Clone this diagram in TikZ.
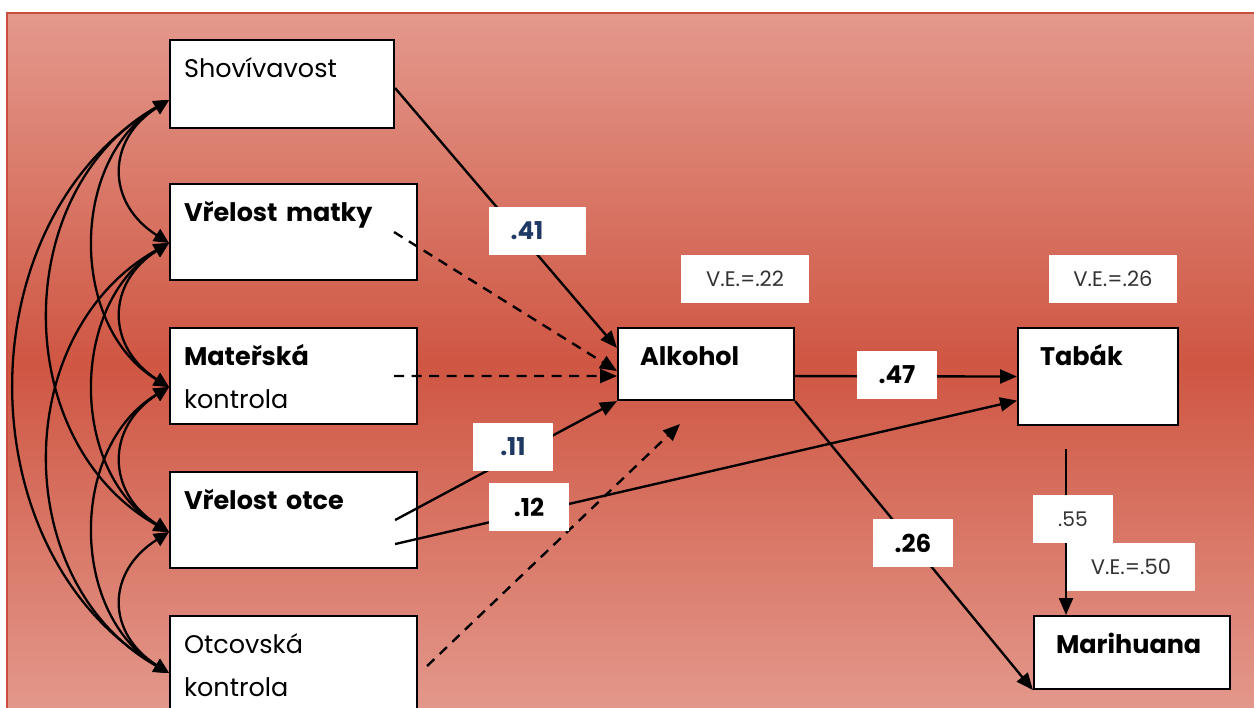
\documentclass[tikz,border=0pt]{standalone}
\usepackage{fontspec}
\setmainfont{Poppins}
\usepackage{tikz}
\usetikzlibrary{arrows.meta, positioning, calc}
\usepackage{xcolor}
\definecolor{pozadi svetle}{RGB}{227,153,140}
\definecolor{pozadi tmave}{RGB}{207,86,67}
\definecolor{okraj}{RGB}{200,78,62}
\definecolor{modra}{RGB}{31,56,100}
\tikzset{
    promenna/.style={draw, line width=1.2pt, fill=white, anchor=north west, align=left,
        inner ysep=0pt, inner xsep=0.28cm, text height=0.74cm,
        font=\fontsize{14.5}{25}\selectfont},
    stitek/.style={fill=white, inner sep=0pt, minimum width=1.6cm, minimum height=0.96cm,
        font=\fontsize{14}{16}\selectfont\bfseries},
    stitek ve/.style={fill=white, inner sep=0pt, minimum width=2.56cm, minimum height=0.96cm,
        font=\fontsize{12}{14}\selectfont, text=black!80},
    cesta/.style={-{Triangle[length=0.34cm, width=0.28cm]}, line width=1.35pt},
    cesta prerusovana/.style={cesta, dash pattern=on 0.2cm off 0.15cm},
    kovariance/.style={{Triangle[length=0.3cm, width=0.28cm]}-{Triangle[length=0.3cm, width=0.28cm]}, line width=1.3pt},
}
\begin{document}
\begin{tikzpicture}[x=0.02cm, y=-0.02cm]
\useasboundingbox (0,0) rectangle (1254,707);
\clip (0,0) rectangle (1254,707);
% Pozadi
\shade[top color=pozadi svetle, bottom color=pozadi svetle, middle color=pozadi tmave] (7,13) rectangle (1262,715);
\draw[okraj, line width=1.5pt] (1262,13) -- (7,13) -- (7,715);

% Rodicovske promenne
\node[promenna, text width=3.92cm, text depth=1.02cm] (shov) at (169,39) {Shovívavost};
\node[promenna, text width=4.38cm, text depth=1.18cm] (matky) at (169,183) {\textbf{Vřelost matky}};
\node[promenna, text width=4.38cm, text depth=1.18cm] (mkontr) at (169,327) {\textbf{Mateřská}\\kontrola};
\node[promenna, text width=4.38cm, text depth=1.18cm] (otce) at (169,471) {\textbf{Vřelost otce}};
\node[promenna, text width=4.38cm, text depth=1.26cm] (okontr) at (169,615) {Otcovská\\kontrola};

% Latky
\node[promenna, inner xsep=0.44cm, text width=2.64cm, text depth=0.70cm] (alk) at (617,327) {\textbf{Alkohol}};
\node[promenna, inner xsep=0.44cm, text width=2.32cm, text depth=1.20cm] (tab) at (1017,327) {\textbf{Tabák}};
\node[promenna, inner xsep=0.44cm, text width=3.04cm, text depth=0.72cm] (mar) at (1033,615) {\textbf{Marihuana}};

% Kovariance mezi rodicovskymi promennymi
\coordinate (k1) at ($(shov.north west)+(0,61)$);
\coordinate (k2) at ($(matky.north west)+(0,60)$);
\coordinate (k3) at ($(mkontr.north west)+(0,60)$);
\coordinate (k4) at ($(otce.north west)+(0,61)$);
\coordinate (k5) at ($(okontr.north west)+(0,58)$);
\foreach \i/\j/\a/\b in {1/2/63/40, 2/3/63/40, 3/4/63/40, 4/5/63/40,
                         1/3/100/60, 2/4/100/60, 3/5/100/60,
                         1/4/160/90, 2/5/160/90, 1/5/205/120}
    \draw[kovariance] (k\i) .. controls +(-\a,\b) and +(-\a,-\b) .. (k\j);

% Cesty k alkoholu
\coordinate (konec) at (680,424);
\draw[cesta] ($(shov.east)+(0,4)$) -- ($(alk.north west)+(0,21)$);
\draw[cesta prerusovana] ($(matky.east)+(-24,0)$) -- ($(alk.west)+(0,7)$);
\draw[cesta prerusovana] ($(mkontr.east)+(-24,0)$) -- ($(alk.west)+(0,12)$);
\draw[cesta] ($(otce.east)+(-23,0)$) -- (alk.south west);
\draw[cesta] ($(otce.east)+(-23,24)$) -- ($(tab.west)+(0,24)$);
\draw[cesta prerusovana] ($(okontr.east)+(9,0)$) -- (konec);
% Cesty mezi latkami
\draw[cesta] ($(alk.east)+(0,12)$) -- (tab.west);
\draw[cesta] (alk.south east) -- (mar.south west);
\draw[cesta] ($(tab.south west)+(49,23)$) -- ($(mar.north west)+(33,0)$);

% Koeficienty
\node[stitek, minimum width=1.94cm, text=modra] (b41) at (537.5,231) {.41\hspace{0.42cm}\mbox{}};
\node[stitek, text=modra] (b11) at (513,447) {.11};
\node[stitek] (b12) at (529,507) {.12};
\node[stitek] (b47) at (897,375) {.47};
\node[stitek] (b26) at (913,543) {.26};
\node[stitek, font=\fontsize{11.5}{14}\selectfont, text=black!80] (b55) at (1073,519) {.55};
\node[stitek ve] (ve22) at (745,279) {V.E.=.22};
\node[stitek ve] (ve26) at (1113,279) {V.E.=.26};
\node[stitek ve] (ve50) at (1131,567) {V.E.=.50};
\end{tikzpicture}
\end{document}
